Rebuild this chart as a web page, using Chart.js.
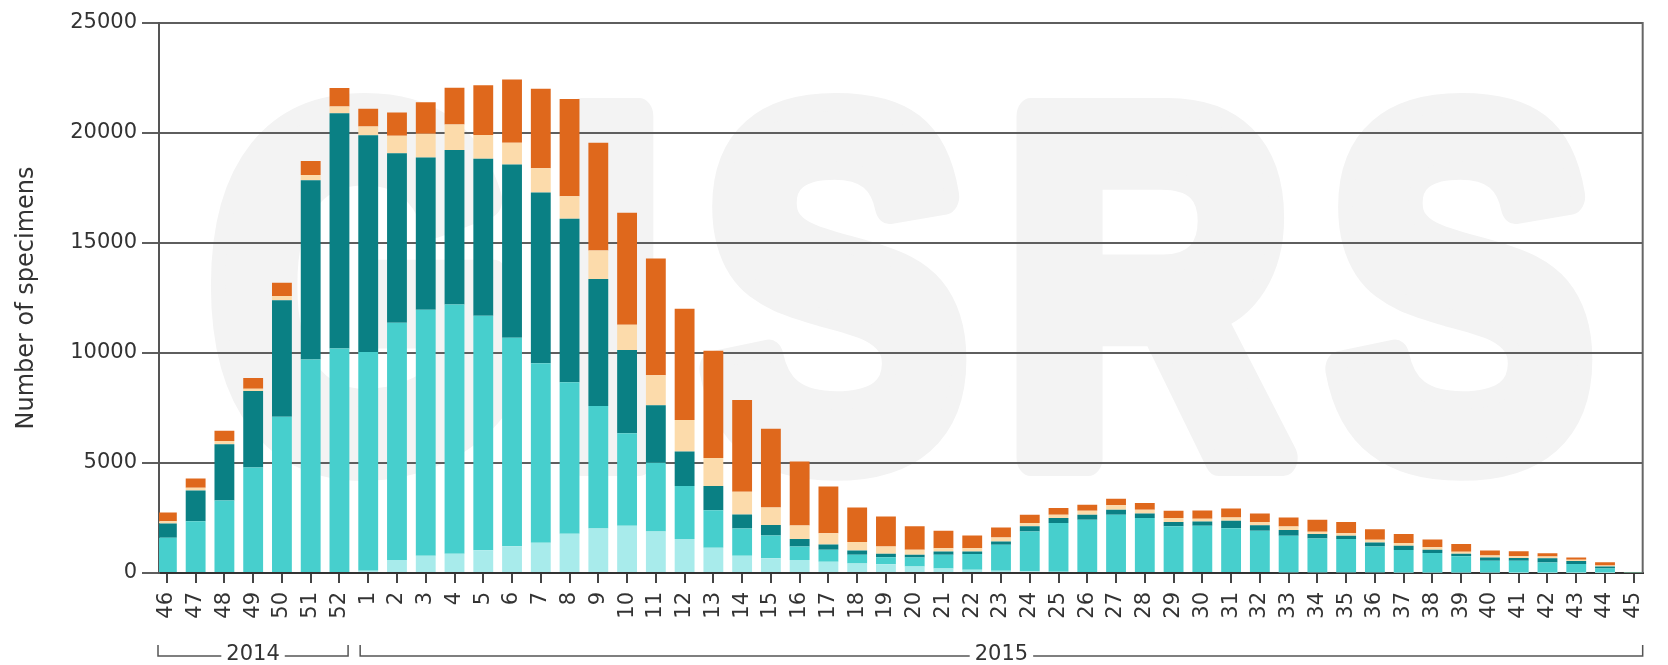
<!DOCTYPE html>
<html>
<head>
<meta charset="utf-8">
<title>Number of specimens by week</title>
<script src="https://cdn.jsdelivr.net/npm/chart.js@4/dist/chart.umd.min.js"></script>
<style>
    html, body { margin: 0; padding: 0; background: #fff; }
    #chart-wrap { position: relative; width: 1668px; height: 665px; }
</style>
</head>
<body>
<div id="chart-wrap"><canvas id="specimens-chart"></canvas></div>
<script>
// Weekly specimen counts, week 46 of 2014 to week 45 of 2015
const weeks = ['46', '47', '48', '49', '50', '51', '52',
    '1', '2', '3', '4', '5', '6', '7', '8', '9', '10', '11', '12', '13', '14', '15',
    '16', '17', '18', '19', '20', '21', '22', '23', '24', '25', '26', '27', '28', '29', '30',
    '31', '32', '33', '34', '35', '36', '37', '38', '39', '40', '41', '42', '43', '44', '45'];

// Year brackets under the week labels (index of first and last week)
const years = ['2014', '2015'];
const yearFirstWeek = [0, 7];
const yearLastWeek = [6, 51];

// Stacked series, bottom to top
const lightCyan = [0, 0, 0, 0, 0, 0, 0,
    100, 590, 780, 880, 1030, 1220, 1380, 1780, 2020, 2150, 1890, 1540, 1150, 780, 670,
    590, 510, 430, 400, 300, 200, 150, 100, 80, 60, 50, 50, 50, 50, 40,
    40, 40, 30, 30, 30, 30, 20, 20, 20, 20, 10, 10, 10, 10, 0];
const turquoise = [1600, 2350, 3300, 4800, 7100, 9700, 10200,
    9950, 10790, 11190, 11320, 10660, 9470, 8150, 6890, 5570, 4200, 3120, 2420, 1700, 1240, 1030,
    620, 550, 400, 320, 410, 630, 710, 1185, 1810, 2210, 2370, 2600, 2450, 2070, 2110,
    1990, 1880, 1660, 1540, 1510, 1180, 1020, 890, 740, 540, 550, 470, 400, 200, 20];
const darkTeal = [650, 1400, 2550, 3470, 5300, 8150, 10700,
    9850, 7700, 6920, 7030, 7140, 7880, 7760, 7430, 5770, 3790, 2610, 1560, 1110, 640, 480,
    330, 230, 190, 160, 120, 150, 120, 150, 230, 230, 230, 230, 200, 200, 190,
    340, 250, 270, 200, 150, 180, 200, 150, 110, 150, 120, 190, 130, 80, 0];
const peach = [100, 120, 150, 110, 190, 240, 300,
    400, 800, 1080, 1160, 1080, 990, 1110, 1030, 1300, 1140, 1370, 1430, 1270, 1030, 800,
    620, 520, 390, 330, 230, 150, 150, 180, 150, 150, 180, 200, 180, 180, 130,
    150, 150, 150, 110, 120, 120, 120, 110, 100, 80, 80, 80, 60, 50, 0];
const orange = [400, 420, 470, 480, 600, 640, 850,
    800, 1050, 1430, 1670, 2260, 2870, 3610, 4420, 4900, 5090, 5310, 5060, 4870, 4170, 3580,
    2910, 2120, 1570, 1360, 1060, 790, 575, 450, 380, 300, 270, 300, 300, 330, 370,
    410, 390, 410, 540, 510, 480, 410, 350, 350, 230, 230, 150, 110, 150, 30];

const seriesValues = [lightCyan, turquoise, darkTeal, peach, orange];
const seriesColors = ['#a8ebeb', '#47cfcd', '#0a8084', '#fcdbab', '#df681c'];

const fontFamily = '"DejaVu Sans", "Liberation Sans", Arial, sans-serif';
const textColor = '#333';

// Big pale lettering behind the plot (stroked as well to make it heavy)
const watermark = {
    id: 'watermark',
    beforeDraw(chart) {
        const ctx = chart.ctx;
        const area = chart.chartArea;
        const sx = 0.8;
        ctx.save();
        ctx.fillStyle = '#f3f3f3';
        ctx.strokeStyle = '#f3f3f3';
        ctx.lineWidth = 36;
        ctx.lineJoin = 'round';
        ctx.font = 'bold 497px "Liberation Sans", Arial, sans-serif';
        ctx.textAlign = 'left';
        ctx.textBaseline = 'alphabetic';
        ctx.letterSpacing = '46px';
        ctx.scale(sx, 1);
        const tx = (area.left + 50) / sx;
        const ty = area.bottom - 115;
        ctx.strokeText('GISRS', tx, ty);
        ctx.fillText('GISRS', tx, ty);
        ctx.restore();
    }
};

// Right frame line and the year brackets below the axis
const frameAndYears = {
    id: 'frameAndYears',
    afterDraw(chart) {
        const ctx = chart.ctx;
        const area = chart.chartArea;
        const x = chart.scales.x;

        ctx.save();
        ctx.strokeStyle = '#666';
        ctx.lineWidth = 2;
        ctx.beginPath();
        ctx.moveTo(area.right, area.top - 1);
        ctx.lineTo(area.right, area.bottom);
        ctx.stroke();

        const lineY = 656;
        const endTop = 645;
        ctx.font = '21px ' + fontFamily;
        ctx.fillStyle = textColor;
        ctx.textAlign = 'center';
        ctx.textBaseline = 'alphabetic';
        ctx.strokeStyle = '#555';
        ctx.lineWidth = 1.5;
        years.forEach(function(label, k) {
            const first = yearFirstWeek[k];
            const last = yearLastWeek[k];
            const x0 = first === 0 ? area.left - 1 : x.getPixelForValue(first - 0.28);
            const x1 = last === weeks.length - 1 ? area.right : x.getPixelForValue(last + 0.3);
            const mid = (x0 + x1) / 2;
            const half = ctx.measureText(label).width / 2 + 5;
            ctx.beginPath();
            ctx.moveTo(x0, endTop);
            ctx.lineTo(x0, lineY);
            ctx.lineTo(mid - half, lineY);
            ctx.moveTo(mid + half, lineY);
            ctx.lineTo(x1, lineY);
            ctx.lineTo(x1, endTop);
            ctx.stroke();
            ctx.fillText(label, mid, 660);
        });
        ctx.restore();
    }
};

const datasets = seriesValues.map(function(values, s) {
    return {
        data: weeks.map(function(w, i) { return { x: i, y: values[i] }; }),
        backgroundColor: seriesColors[s],
        borderWidth: 0,
        categoryPercentage: 1,
        barPercentage: 0.69
    };
});

new Chart(document.getElementById('specimens-chart'), {
    type: 'bar',
    data: { datasets: datasets },
    options: {
        responsive: true,
        maintainAspectRatio: false,
        animation: false,
        layout: { padding: { top: 23, right: 5, bottom: 0, left: 0 } },
        plugins: {
            legend: { display: false },
            tooltip: { enabled: false }
        },
        scales: {
            x: {
                type: 'linear',
                stacked: true,
                offset: false,
                min: -0.274,
                max: 51.31,
                grid: {
                    offset: false,
                    drawOnChartArea: false,
                    drawTicks: true,
                    tickLength: 10,
                    color: '#444',
                    lineWidth: 2
                },
                border: { color: '#333', width: 2 },
                ticks: {
                    stepSize: 1,
                    includeBounds: false,
                    autoSkip: false,
                    maxTicksLimit: 100,
                    minRotation: 90,
                    maxRotation: 90,
                    padding: 9,
                    color: textColor,
                    font: { family: fontFamily, size: 21 },
                    callback: function(value) { return weeks[value] || ''; }
                },
                afterFit: function(scale) { scale.height = 92; }
            },
            y: {
                stacked: true,
                min: 0,
                max: 25000,
                ticks: {
                    stepSize: 5000,
                    padding: 5,
                    color: textColor,
                    font: { family: fontFamily, size: 21 },
                    callback: function(value) { return String(value); }
                },
                grid: { color: '#5e5e5e', lineWidth: 2, tickLength: 17 },
                border: { color: '#555', width: 2 },
                title: {
                    display: true,
                    text: 'Number of specimens',
                    color: textColor,
                    font: { family: fontFamily, size: 24 },
                    padding: { top: 12, bottom: 0 }
                },
                afterFit: function(scale) { scale.width = 159; }
            }
        }
    },
    plugins: [watermark, frameAndYears]
});
</script>
</body>
</html>
